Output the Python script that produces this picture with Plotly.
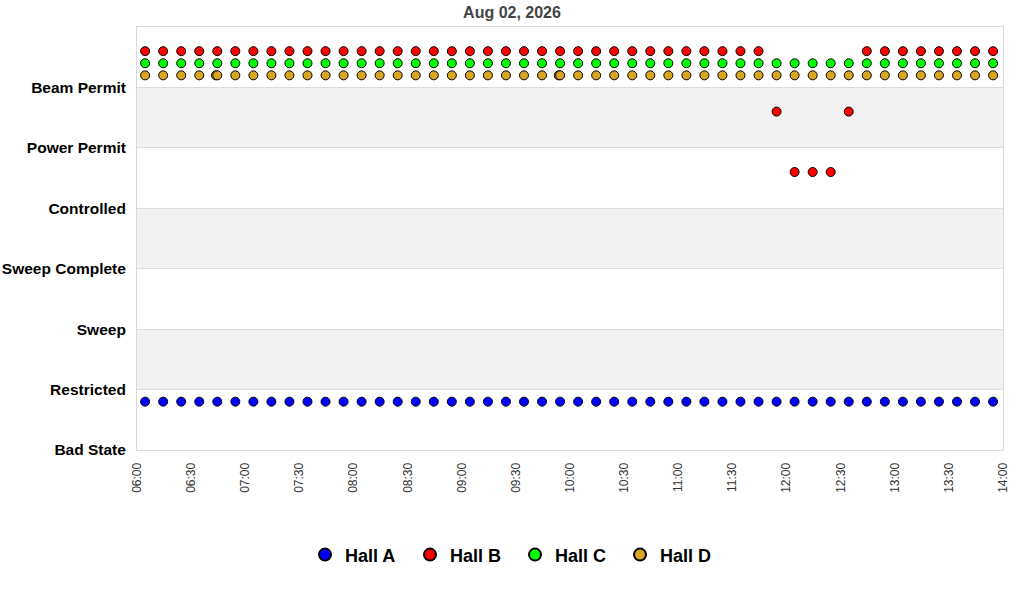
import plotly.graph_objects as go

# ---- data ----
title_text = "Aug 02, 2026"
state_labels = ["Bad State", "Restricted", "Sweep", "Sweep Complete",
                "Controlled", "Power Permit", "Beam Permit"]
x_tick_labels = ["06:00", "06:30", "07:00", "07:30", "08:00", "08:30", "09:00",
                 "09:30", "10:00", "10:30", "11:00", "11:30", "12:00", "12:30",
                 "13:00", "13:30", "14:00"]

sample_times = ["06:04:30", "06:14:30", "06:24:30", "06:34:30", "06:44:30", "06:54:30",
                "07:04:30", "07:14:30", "07:24:30", "07:34:30", "07:44:30", "07:54:30",
                "08:04:30", "08:14:30", "08:24:30", "08:34:30", "08:44:30", "08:54:30",
                "09:04:30", "09:14:30", "09:24:30", "09:34:30", "09:44:30", "09:54:30",
                "10:04:30", "10:14:30", "10:24:30", "10:34:30", "10:44:30", "10:54:30",
                "11:04:30", "11:14:30", "11:24:30", "11:34:30", "11:44:30", "11:54:30",
                "12:04:30", "12:14:30", "12:24:30", "12:34:30", "12:44:30", "12:54:30",
                "13:04:30", "13:14:30", "13:24:30", "13:34:30", "13:44:30", "13:54:30"]

hall_a_states = ["Bad State"] * 48
hall_b_states = (["Beam Permit"] * 35 + ["Power Permit"] + ["Controlled"] * 3
                 + ["Power Permit"] + ["Beam Permit"] * 8)
hall_c_states = ["Beam Permit"] * 48
# Hall D has two extra, nearly coincident samples
hall_d_extra_times = ["06:43:45", "09:53:45"]
hall_d_extra_states = ["Beam Permit", "Beam Permit"]
hall_d_states = ["Beam Permit"] * 48

hall_names = ["Hall A", "Hall B", "Hall C", "Hall D"]
hall_colors = ["#0000ff", "#ff0000", "#00ff00", "#daa520"]
hall_offsets = [0.8, 0.6, 0.4, 0.2]

day = "2026-08-02"


def ts(t):
    return f"{day} {t}"


fig = go.Figure()

hall_series = [
    (sample_times, hall_a_states),
    (sample_times, hall_b_states),
    (sample_times, hall_c_states),
    (hall_d_extra_times + sample_times, hall_d_extra_states + hall_d_states),
]

for name, color, off, (times, states) in zip(hall_names, hall_colors, hall_offsets, hall_series):
    fig.add_trace(go.Scatter(
        x=[ts(t) for t in times],
        y=[state_labels.index(s) + off for s in states],
        mode="markers",
        name=name,
        marker=dict(symbol="circle", size=9, color=color,
                    line=dict(color="#000000", width=1)),
        cliponaxis=False,
    ))

# alternating bands
shapes = []
for i in range(len(state_labels)):
    if i % 2 == 1:
        shapes.append(dict(type="rect", xref="paper", yref="y", x0=0, x1=1,
                           y0=i, y1=i + 1, fillcolor="#f2f2f2",
                           line=dict(width=0), layer="below"))

font_family = "Liberation Sans, Arial, sans-serif"

fig.update_layout(
    width=1024, height=600,
    margin=dict(l=137, r=21, t=27, b=150, autoexpand=False),
    paper_bgcolor="#ffffff",
    plot_bgcolor="#ffffff",
    font=dict(family=font_family, color="#000000"),
    title=dict(text=f"<b>{title_text}</b>", xref="container", x=0.5, xanchor="center",
               yref="container", y=0.979, yanchor="middle",
               font=dict(size=16, color="#444444", family=font_family)),
    shapes=shapes,
    showlegend=True,
    legend=dict(orientation="h", xref="paper", x=0.4365, xanchor="center",
                yref="paper", y=-0.248, yanchor="middle",
                font=dict(size=18, color="#000000", family=font_family, weight="bold"),
                itemsizing="constant", entrywidth=60, entrywidthmode="pixels",
                bgcolor="rgba(0,0,0,0)"),
)

fig.update_xaxes(
    type="date",
    range=[ts("06:00:00"), ts("14:00:00")],
    tickvals=[ts(t + ":00") for t in x_tick_labels],
    ticktext=x_tick_labels,
    tickangle=-90,
    tickfont=dict(size=12, color="#333333", family=font_family),
    showgrid=False,
    zeroline=False,
    automargin=False,
    showline=True, mirror=True, linecolor="#d9d9d9", linewidth=1,
    ticks="",
    ticklabelstandoff=7,
)

fig.update_yaxes(
    range=[0, len(state_labels)],
    tickvals=list(range(len(state_labels))),
    ticktext=[f"<b>{s}</b>" for s in state_labels],
    tickfont=dict(size=15.5, color="#000000", family=font_family),
    showgrid=True, gridcolor="#dddddd", gridwidth=1,
    zeroline=False,
    automargin=False,
    showline=True, mirror=True, linecolor="#d9d9d9", linewidth=1,
    ticks="",
    ticklabelstandoff=7,
)

fig.write_html("out.html", config={"displayModeBar": False},
               post_script="document.body.style.margin='0';")
